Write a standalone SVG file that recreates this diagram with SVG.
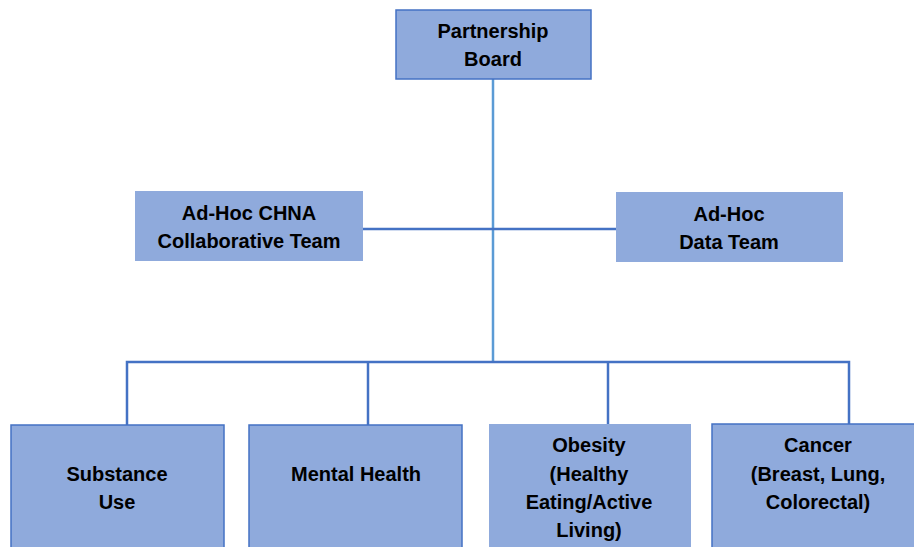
<svg xmlns="http://www.w3.org/2000/svg" width="914" height="547" viewBox="0 0 914 547">
<style>
.box{fill:#8FAADC;}
.bd{stroke:#4472C4;stroke-width:1.5;}
.t{font-family:"Liberation Sans",Arial,sans-serif;font-weight:bold;font-size:20px;fill:#000;text-anchor:middle;}
.c{stroke:#4472C4;stroke-width:2.5;fill:none;}
.v{stroke:#5B9BD5;stroke-width:2.5;fill:none;}
</style>
<rect width="914" height="547" fill="#fff"/>
<g id="connectors">
<line class="v" x1="493" y1="79" x2="493" y2="362"/>
<line class="c" x1="363" y1="229" x2="617" y2="229"/>
<polyline class="c" points="127,425 127,362 849,362 849,425"/>
<line class="c" x1="368" y1="362" x2="368" y2="425"/>
<line class="c" x1="608" y1="362" x2="608" y2="425"/>
</g>
<g id="partnership-board">
<rect class="box bd" x="396" y="10" width="195" height="69"/>
<text class="t" x="493" y="38">Partnership</text>
<text class="t" x="493" y="66">Board</text>
</g>
<g id="chna-team">
<rect class="box" x="135" y="191" width="228" height="70"/>
<text class="t" x="249" y="220">Ad-Hoc CHNA</text>
<text class="t" x="249" y="248">Collaborative Team</text>
</g>
<g id="data-team">
<rect class="box" x="616" y="192" width="227" height="70"/>
<text class="t" x="729" y="221">Ad-Hoc</text>
<text class="t" x="729" y="249">Data Team</text>
</g>
<g id="substance-use">
<rect class="box bd" x="11" y="425" width="213" height="140"/>
<text class="t" x="117" y="481">Substance</text>
<text class="t" x="117" y="509">Use</text>
</g>
<g id="mental-health">
<rect class="box bd" x="249" y="425" width="213" height="140"/>
<text class="t" x="356" y="481">Mental Health</text>
</g>
<g id="obesity">
<rect class="box" x="489" y="424" width="202" height="140"/>
<text class="t" x="589" y="452">Obesity</text>
<text class="t" x="589" y="481">(Healthy</text>
<text class="t" x="589" y="509">Eating/Active</text>
<text class="t" x="589" y="537">Living)</text>
</g>
<g id="cancer">
<rect class="box bd" x="712" y="424" width="213" height="140"/>
<text class="t" x="818" y="452">Cancer</text>
<text class="t" x="818" y="481">(Breast, Lung,</text>
<text class="t" x="818" y="509">Colorectal)</text>
</g>
</svg>
